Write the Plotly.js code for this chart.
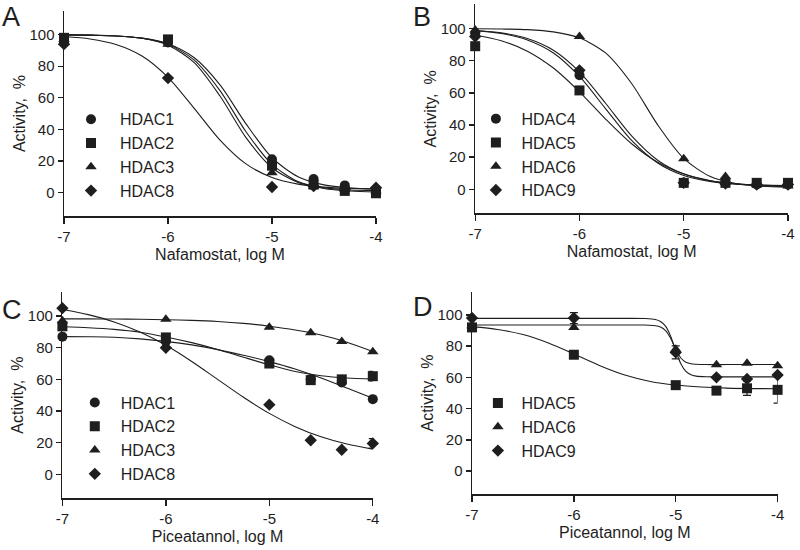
<!DOCTYPE html>
<html>
<head>
<meta charset="utf-8">
<script src="https://cdn.plot.ly/plotly-3.0.1.min.js"></script>
<style>
  body { margin: 0; background: #fff; }
  #chart { width: 800px; height: 550px; }
</style>
</head>
<body>
<div id="chart"></div>
<script>
// measured doses, log M
const logDose = [-7, -6, -5, -4.6, -4.3, -4];
const fitX = [-7, -6.75, -6.5, -6.25, -6, -5.75, -5.5, -5.25, -5, -4.75, -4.5, -4.25, -4];
const fitXSteep = [-7, -6.5, -6, -5.5, -5.3, -5.2, -5.15, -5.1, -5.05, -5, -4.95, -4.9, -4.85, -4.8, -4.7, -4.5, -4];

// A - Nafamostat, class I
const aHdac1 = [96, 95, 21, 8.5, 4.5, 2];
const aHdac2 = [98, 97, 17, 5, 1, -0.5];
const aHdac3 = [97, 94, 12.5, 4, 2, 1];
const aHdac8 = [94, 72.5, 3.5, 4, 2, 3];
const aFit1 = [99.9, 99.7, 99.2, 97.8, 94.3, 85.5, 68.2, 43.5, 22, 10, 4.8, 2.8, 2];
const aFit2 = [100, 99.7, 99.2, 97.8, 93.9, 84, 64.5, 38.5, 17.8, 6.9, 2.5, 0.9, 0.3];
const aFit3 = [99.9, 99.7, 99.2, 97.7, 93.3, 82.4, 61.1, 34.8, 15.7, 6.4, 2.9, 1.6, 1.2];
const aFit8 = [98.8, 97.3, 93.8, 86.5, 73, 53.5, 33.2, 18.1, 9.5, 5.3, 3.4, 2.6, 2.3];

// B - Nafamostat, class IIa/IIb
const bHdac4 = [97, 71, 4, 4, 3, 3];
const bHdac5 = [89, 61.5, 4, 4, 4, 4];
const bHdac6 = [99, 95, 19, 8, 3, 2];
const bHdac9 = [95, 74, 4, 3.5, 3, 3];
const bFit4 = [98.7, 96.9, 92.9, 84.8, 70.2, 50.2, 30.4, 16.4, 8.6, 4.9, 3.2, 2.5, 2.2];
const bFit5 = [96, 92.4, 85.9, 75.4, 60.6, 43.7, 28.3, 16.8, 9.6, 5.5, 3.3, 2.2, 1.6];
const bFit6 = [99.9, 99.7, 99.3, 97.9, 94.2, 84.8, 65.8, 40.1, 19.2, 8.1, 3.6, 1.9, 1.3];
const bFit9 = [98.8, 97.3, 93.8, 86.5, 73, 53.5, 33.2, 18.1, 9.5, 5.3, 3.4, 2.6, 2.3];

// C - Piceatannol, class I
const cHdac1 = [87, 84, 72, 60, 58, 47.5];
const cHdac2 = [93.5, 86.5, 70, 59.5, 60, 62];
const cHdac3 = [97, 98, 93, 89.5, 84, 77.5];
const cHdac8 = [105, 80, 44, 21.5, 15.5, 19.5];
const cErr2 = [0, 0, 0, 0, 2, 3];
const cErr8 = [0, 0, 0, 0, 0, 3];
const cFit1 = [87, 86.9, 86.6, 85.6, 84, 81.8, 78.8, 75.2, 71.2, 66.5, 60.8, 54.5, 48];
const cFit2 = [93.2, 92.6, 91.6, 89.8, 86.8, 83.2, 78.9, 74, 69.2, 65, 62.3, 60.9, 60.3];
const cFit3 = [98.2, 98.2, 98.1, 98, 97.7, 97.3, 96.6, 95.4, 93.6, 91.2, 88, 83.5, 77.6];
const cFit8 = [104.1, 100.9, 96.3, 89.9, 81.5, 71.3, 60, 48.7, 38.5, 30.1, 23.7, 19.1, 15.9];

// D - Piceatannol, class IIa/IIb
const dHdac5 = [92, 74.5, 55, 51.5, 53, 52];
const dHdac6 = [93, 92, 78, 68, 69, 67.5];
const dHdac9 = [98, 98, 76, 60, 59, 61.5];
const dErr5 = [0, 0, 0, 0, 4.5, 8.5];
const dErr9 = [0, 3.5, 4.2, 0, 0, 0];
const dFit5 = [92.5, 90.7, 87.4, 82, 75, 67.6, 61.5, 57.4, 55.1, 53.8, 53.1, 52.8, 52.7];
const dFit6 = [93.5, 93.5, 93.5, 93.5, 93.5, 93.1, 92.3, 90, 85.1, 78, 72.4, 69.7, 68.7, 68.4, 68.2, 68.2, 68.2];
const dFit9 = [97.8, 97.8, 97.8, 97.8, 97.7, 97.1, 95.8, 92.8, 86.4, 77.1, 68.7, 63.8, 61.6, 60.8, 60.4, 60.3, 60.3];

const ink = '#1e1e1e';
const fontFam = '"Liberation Sans", Arial, sans-serif';

const fitTrace = (x, y, ax) => ({
    x: x, y: y,
    xaxis: 'x' + ax, yaxis: 'y' + ax,
    mode: 'lines',
    line: {color: ink, width: 1.1, shape: 'spline', smoothing: 0.8},
    showlegend: false,
    hoverinfo: 'skip'
});

const pointTrace = (y, name, symbol, ax, err) => ({
    x: logDose, y: y, name: name,
    xaxis: 'x' + ax, yaxis: 'y' + ax,
    legend: ax === '' ? 'legend' : 'legend' + ax,
    mode: 'markers',
    cliponaxis: false,
    marker: {symbol: symbol, size: symbol === 'diamond' ? 9.5 : 10, color: ink},
    error_y: err ? {type: 'data', array: err, visible: true,
                    color: ink, thickness: 1.2, width: 4} : undefined
});

const data = [
    fitTrace(fitX, aFit1, ''), fitTrace(fitX, aFit2, ''),
    fitTrace(fitX, aFit3, ''), fitTrace(fitX, aFit8, ''),
    pointTrace(aHdac1, 'HDAC1', 'circle', ''),
    pointTrace(aHdac2, 'HDAC2', 'square', ''),
    pointTrace(aHdac3, 'HDAC3', 'triangle-up', ''),
    pointTrace(aHdac8, 'HDAC8', 'diamond', ''),

    fitTrace(fitX, bFit4, '2'), fitTrace(fitX, bFit5, '2'),
    fitTrace(fitX, bFit6, '2'), fitTrace(fitX, bFit9, '2'),
    pointTrace(bHdac4, 'HDAC4', 'circle', '2'),
    pointTrace(bHdac5, 'HDAC5', 'square', '2'),
    pointTrace(bHdac6, 'HDAC6', 'triangle-up', '2'),
    pointTrace(bHdac9, 'HDAC9', 'diamond', '2'),

    fitTrace(fitX, cFit1, '3'), fitTrace(fitX, cFit2, '3'),
    fitTrace(fitX, cFit3, '3'), fitTrace(fitX, cFit8, '3'),
    pointTrace(cHdac1, 'HDAC1', 'circle', '3'),
    pointTrace(cHdac2, 'HDAC2', 'square', '3', cErr2),
    pointTrace(cHdac3, 'HDAC3', 'triangle-up', '3'),
    pointTrace(cHdac8, 'HDAC8', 'diamond', '3', cErr8),

    fitTrace(fitX, dFit5, '4'), fitTrace(fitXSteep, dFit6, '4'),
    fitTrace(fitXSteep, dFit9, '4'),
    pointTrace(dHdac5, 'HDAC5', 'square', '4', dErr5),
    pointTrace(dHdac6, 'HDAC6', 'triangle-up', '4'),
    pointTrace(dHdac9, 'HDAC9', 'diamond', '4', dErr9)
];

const xAxis = (dom, anchor, title) => ({
    domain: dom, anchor: anchor,
    range: [-7, -4],
    tickvals: [-7, -6, -5, -4],
    ticktext: ['-7', '-6', '-5', '-4'],
    ticks: 'outside', ticklen: 6, tickwidth: 1.4, tickcolor: ink,
    showline: true, linewidth: 1.5, linecolor: ink,
    showgrid: false, zeroline: false,
    tickfont: {size: 15, color: ink},
    title: {text: title, font: {size: 16, color: ink}, standoff: 5},
    fixedrange: true
});

const yAxis = (dom, anchor) => ({
    domain: dom, anchor: anchor,
    range: [-15, 115],
    tickvals: [0, 20, 40, 60, 80, 100],
    ticks: 'outside', ticklen: 5, tickwidth: 1.4, tickcolor: ink,
    showline: true, linewidth: 1.5, linecolor: ink,
    showgrid: false, zeroline: false,
    tickfont: {size: 15, color: ink},
    title: {text: 'Activity,\u00a0\u00a0%', font: {size: 16, color: ink}, standoff: 0},
    fixedrange: true
});

const legendBox = (x, y, w) => ({
    x: x, y: y, xanchor: 'left', yanchor: 'top',
    bgcolor: 'rgba(0,0,0,0)', borderwidth: 0,
    font: {size: 16, color: ink},
    itemwidth: w,
    traceorder: 'normal'
});

const letter = (t, x, y) => ({
    text: t, xref: 'paper', yref: 'paper', x: x, y: y,
    xanchor: 'left', yanchor: 'top', showarrow: false,
    font: {size: 27, color: ink}
});

const layout = {
    width: 800, height: 550,
    margin: {l: 0, r: 0, t: 0, b: 0},
    paper_bgcolor: '#fff', plot_bgcolor: '#fff',
    font: {family: fontFam, color: ink},
    xaxis: xAxis([0.080, 0.470], 'y', 'Nafamostat, log M'),
    yaxis: yAxis([0.607, 0.980], 'x'),
    xaxis2: xAxis([0.594, 0.985], 'y2', 'Nafamostat, log M'),
    yaxis2: yAxis([0.612, 0.992], 'x2'),
    xaxis3: xAxis([0.078, 0.466], 'y3', 'Piceatannol, log M'),
    yaxis3: yAxis([0.0945, 0.4685], 'x3'),
    xaxis4: xAxis([0.590, 0.972], 'y4', 'Piceatannol, log M'),
    yaxis4: yAxis([0.101, 0.470], 'x4'),
    legend: legendBox(0.0775, 0.814, 48),
    legend2: legendBox(0.588, 0.815, 41),
    legend3: legendBox(0.086, 0.299, 42),
    legend4: legendBox(0.593, 0.298, 37),
    annotations: [
        letter('A', 0.0, 1.0), letter('B', 0.514, 1.0),
        letter('C', 0.0, 0.468), letter('D', 0.514, 0.472)
    ],
    hovermode: 'closest'
};

Plotly.newPlot('chart', data, layout, {displayModeBar: false, responsive: false, staticPlot: true});
</script>
</body>
</html>
